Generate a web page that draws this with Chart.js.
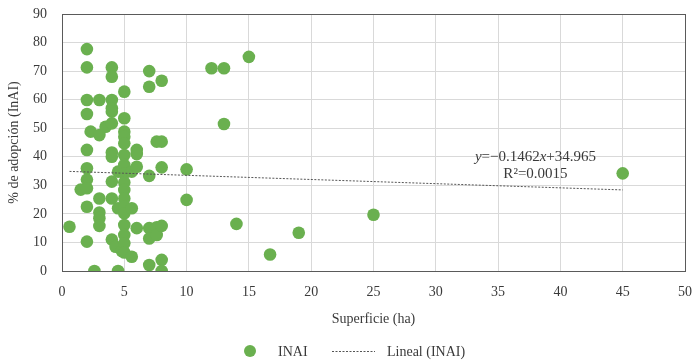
<!DOCTYPE html>
<html>
<head>
<meta charset="utf-8">
<script src="https://cdn.jsdelivr.net/npm/chart.js@4/dist/chart.umd.min.js"></script>
<style>
  html, body { margin: 0; padding: 0; background: #fff; }
  #wrap { width: 698px; height: 363px; position: relative; }
</style>
</head>
<body>
<div id="wrap"><canvas id="c"></canvas></div>
<script>
// Superficie (ha) vs % de adopción (InAI) — scatter + linear trend.
const inaiX = [
  0.6, 1.5,
  2, 2, 2, 2, 2, 2, 2, 2, 2, 2,
  2.3, 2.6,
  3, 3, 3, 3, 3, 3, 3.5,
  4, 4, 4, 4, 4, 4, 4, 4, 4, 4, 4,
  4.3, 4.5, 4.5, 4.5, 4.8,
  5, 5, 5, 5, 5, 5, 5, 5, 5, 5, 5, 5, 5, 5, 5, 5, 5,
  5.6, 5.6, 5.6,
  6, 6, 6, 6,
  7, 7, 7, 7, 7, 7,
  7.6, 7.6, 7.6,
  8, 8, 8, 8, 8, 8,
  10, 10, 12, 13, 13, 14, 15, 16.7, 19, 25, 45
];
const inaiY = [
  15.5, 28.5,
  77.7, 71.3, 59.9, 55, 42.4, 36, 32, 29, 22.5, 10.3,
  48.8, 0,
  59.9, 47.6, 25.4, 20.5, 18.5, 15.8, 50.5,
  71.3, 68, 59.9, 57, 55.8, 51.7, 41.5, 40, 31.3, 25.4, 11,
  8.5, 34.8, 22, 0, 7,
  62.8, 53.5, 48.8, 47, 44.7, 40.6, 37.1, 34.2, 31, 28.4, 25.4, 22.5, 20.2, 16.1, 12.6, 9.7, 6.5,
  34.8, 22, 5,
  42.4, 41, 36.5, 15,
  70, 64.5, 33.3, 15, 11.4, 2.1,
  45.3, 15.3, 12.6,
  66.6, 45.3, 36.3, 15.8, 3.9, 0,
  35.6, 24.9, 71, 71, 51.5, 16.5, 75, 5.8, 13.4, 19.7, 34.2
];
// trend line end points
const trendX = [0.6, 45];
const trendY = [34.88, 28.39];
const xTicks = [0, 5, 10, 15, 20, 25, 30, 35, 40, 45, 50];
const yTicks = [0, 10, 20, 30, 40, 50, 60, 70, 80, 90];
const seriesNames = ['INAI', 'Lineal (INAI)'];
const eqParts = [['y', true], ['=\u22120.1462', false], ['x', true], ['+34.965', false]];
const r2Text = 'R\u00b2=0.0015';

const GREEN = '#6ab04f';
const TREND = '#555555';
const TXT = '#3a3a3a';
const SERIF = '"Liberation Serif", "DejaVu Serif", serif';

const boxPlugin = {
  id: 'box',
  afterDraw(chart) {
    const { ctx, chartArea: a } = chart;
    ctx.save();
    ctx.strokeStyle = '#5a5a5a';
    ctx.lineWidth = 1;
    ctx.strokeRect(Math.round(a.left) + 0.5, Math.round(a.top) + 0.5,
      Math.round(a.right - a.left), Math.round(a.bottom - a.top));
    ctx.restore();
  },
};

const equationPlugin = {
  id: 'equation',
  afterDatasetsDraw(chart) {
    const { ctx, scales: { x, y } } = chart;
    ctx.save();
    ctx.fillStyle = TXT;
    ctx.textBaseline = 'middle';
    ctx.textAlign = 'left';
    let total = 0;
    for (const [t, it] of eqParts) {
      ctx.font = (it ? 'italic ' : '') + '15px ' + SERIF;
      total += ctx.measureText(t).width;
    }
    let px = x.getPixelForValue(38.0) - total / 2;
    const py = y.getPixelForValue(40.0);
    for (const [t, it] of eqParts) {
      ctx.font = (it ? 'italic ' : '') + '15px ' + SERIF;
      ctx.fillText(t, px, py);
      px += ctx.measureText(t).width;
    }
    ctx.font = '15px ' + SERIF;
    ctx.textAlign = 'center';
    ctx.fillText(r2Text, x.getPixelForValue(38.0), y.getPixelForValue(34.0));
    ctx.restore();
  },
};

const legendPlugin = {
  id: 'customLegend',
  afterDraw(chart) {
    const { ctx } = chart;
    const ly = 351;
    ctx.save();
    ctx.fillStyle = GREEN;
    ctx.beginPath();
    ctx.arc(250, ly, 6, 0, Math.PI * 2);
    ctx.fill();
    ctx.strokeStyle = TREND;
    ctx.lineWidth = 1;
    ctx.setLineDash([2, 1.5]);
    ctx.beginPath();
    ctx.moveTo(332, ly + 0.5);
    ctx.lineTo(375, ly + 0.5);
    ctx.stroke();
    ctx.setLineDash([]);
    ctx.fillStyle = TXT;
    ctx.font = '14px ' + SERIF;
    ctx.textBaseline = 'middle';
    ctx.textAlign = 'left';
    ctx.fillText(seriesNames[0], 278, ly + 1);
    ctx.fillText(seriesNames[1], 387, ly + 1);
    ctx.restore();
  },
};

new Chart(document.getElementById('c'), {
  data: {
    datasets: [
      {
        type: 'scatter',
        label: seriesNames[0],
        data: inaiX.map((v, i) => ({ x: v, y: inaiY[i] })),
        backgroundColor: GREEN,
        borderWidth: 0,
        pointRadius: 6.3,
        pointHoverRadius: 6.3,
        order: 2,
      },
      {
        type: 'line',
        label: seriesNames[1],
        data: trendX.map((v, i) => ({ x: v, y: trendY[i] })),
        borderColor: TREND,
        borderWidth: 1,
        borderDash: [2, 1.5],
        pointRadius: 0,
        fill: false,
        order: 1,
      },
    ],
  },
  options: {
    responsive: true,
    maintainAspectRatio: false,
    animation: false,
    layout: { padding: { left: 0, right: 13, top: 14, bottom: 0 } },
    plugins: {
      legend: { display: false },
      tooltip: { enabled: false },
    },
    scales: {
      x: {
        type: 'linear',
        min: 0,
        max: 50,
        afterBuildTicks: (s) => { s.ticks = xTicks.map((v) => ({ value: v })); },
        afterFit: (s) => { s.height = 92; s.paddingLeft = 0; s.paddingRight = 0; },
        grid: { color: '#d9d9d9', drawTicks: false },
        border: { display: false },
        ticks: { color: TXT, padding: 13, font: { family: SERIF, size: 14 } },
        title: {
          display: true,
          text: 'Superficie (ha)',
          color: TXT,
          font: { family: SERIF, size: 14 },
          padding: { top: 0, bottom: 35 },
        },
      },
      y: {
        type: 'linear',
        min: 0,
        max: 90,
        afterBuildTicks: (s) => { s.ticks = yTicks.map((v) => ({ value: v })); },
        afterFit: (s) => { s.width = 62; s.paddingTop = 0; s.paddingBottom = 0; },
        grid: { color: '#d9d9d9', drawTicks: false },
        border: { display: false },
        ticks: { color: TXT, padding: 15, font: { family: SERIF, size: 14 } },
        title: {
          display: true,
          text: '% de adopción (InAI)',
          color: TXT,
          font: { family: SERIF, size: 14 },
          padding: { top: 6, bottom: 0 },
        },
      },
    },
  },
  plugins: [boxPlugin, equationPlugin, legendPlugin],
});
</script>
</body>
</html>
